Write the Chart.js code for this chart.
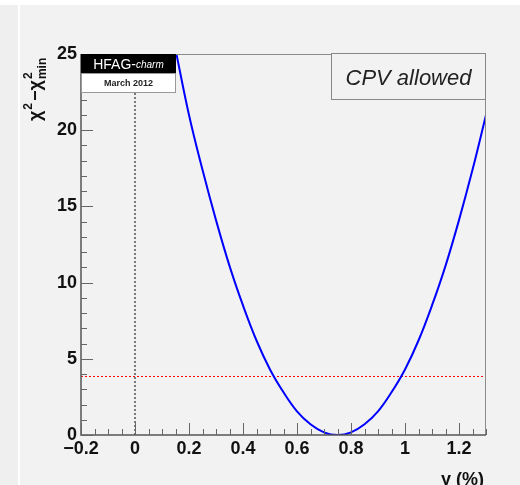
<!DOCTYPE html>
<html>
<head>
<meta charset="utf-8">
<script src="https://cdn.jsdelivr.net/npm/chart.js@4"></script>
<style>
  html, body { margin: 0; padding: 0; background: #ffffff; }
  #page { position: absolute; left: 0; top: 5px; width: 520px; height: 480px; background: #f2f2f2; }
  #strip { position: absolute; left: 0; top: 5px; width: 18px; height: 480px; background: #efefef; border-right: 2px solid #ffffff; }
  #wrap { position: absolute; left: 0; top: 0; width: 520px; height: 485px; }
</style>
</head>
<body>
<div id="page"></div>
<div id="strip"></div>
<div id="wrap"><canvas id="chart" width="520" height="485"></canvas></div>
<script>
// scan of y (%) vs delta chi2
const yValues    = [0.15, 0.20, 0.25, 0.30, 0.35, 0.40, 0.45, 0.50, 0.55, 0.60, 0.65, 0.70, 0.75,
                    0.80, 0.85, 0.90, 0.95, 1.00, 1.05, 1.10, 1.15, 1.20, 1.25, 1.30];
const chi2Values = [25.3, 21.0, 17.4, 14.1, 11.1, 8.5, 6.2, 4.3, 2.8, 1.55, 0.7, 0.17, 0.0,
                    0.17, 0.7, 1.55, 2.8, 4.3, 6.2, 8.5, 11.1, 14.1, 17.4, 21.0];
const cl95Level = 3.84;
const xRange = [-0.2, 1.3];
const yRange = [0, 25];
const xTickValues = [-0.2, 0, 0.2, 0.4, 0.6, 0.8, 1, 1.2];
const yTickValues = [0, 5, 10, 15, 20, 25];
const xTitle = 'y (%)';
const tagTitle = 'HFAG-';
const tagSub = 'charm';
const tagDate = 'March 2012';
const boxText = 'CPV allowed';

const FONT = '"Liberation Sans", Arial, Helvetica, sans-serif';

function fmt(v) {
  const r = Math.round(v * 10) / 10;
  return (r < 0 ? '\u2212' : '') + String(Math.abs(r));
}

const rootStyle = {
  id: 'rootStyle',
  afterDatasetsDraw(chart) {
    const { ctx, chartArea: a, scales: { x, y } } = chart;
    ctx.save();

    // frame top and right
    ctx.strokeStyle = '#8a8a8a';
    ctx.lineWidth = 1;
    ctx.beginPath();
    ctx.moveTo(a.left, a.top + 0.5);
    ctx.lineTo(a.right - 0.5, a.top + 0.5);
    ctx.lineTo(a.right - 0.5, a.bottom);
    ctx.stroke();

    // axis lines
    ctx.strokeStyle = '#555555';
    ctx.lineWidth = 1.5;
    ctx.beginPath();
    ctx.moveTo(a.left, a.top);
    ctx.lineTo(a.left, a.bottom);
    ctx.lineTo(a.right, a.bottom);
    ctx.stroke();

    // ticks pointing inward
    ctx.lineWidth = 1;
    ctx.strokeStyle = '#666666';
    ctx.beginPath();
    for (let i = -4; i <= 26; i++) {
      const v = i * 0.05;
      if (v < xRange[0] - 1e-9 || v > xRange[1] + 1e-9) continue;
      const px = Math.round(x.getPixelForValue(v)) + 0.5;
      const len = i % 4 === 0 ? 12 : 6;
      ctx.moveTo(px, a.bottom);
      ctx.lineTo(px, a.bottom - len);
    }
    for (let v = 0; v <= 25; v++) {
      const py = Math.round(y.getPixelForValue(v)) + 0.5;
      const len = v % 5 === 0 ? 12 : 6;
      ctx.moveTo(a.left, py);
      ctx.lineTo(a.left + len, py);
    }
    ctx.stroke();

    // HFAG tag
    const tagRight = 176;
    ctx.fillStyle = '#000000';
    ctx.fillRect(a.left, a.top, tagRight - a.left, 19);
    ctx.fillStyle = '#ffffff';
    ctx.fillRect(a.left, a.top + 19, tagRight - a.left, 20);
    ctx.strokeStyle = '#999999';
    ctx.lineWidth = 1;
    ctx.strokeRect(a.left + 0.5, a.top + 19.5, tagRight - a.left - 1, 19);
    ctx.fillStyle = '#ffffff';
    ctx.font = '14px ' + FONT;
    ctx.textBaseline = 'alphabetic';
    ctx.textAlign = 'left';
    const w1 = ctx.measureText(tagTitle).width;
    ctx.font = 'italic 10px ' + FONT;
    const w2 = ctx.measureText(tagSub).width;
    let tx = (a.left + tagRight) / 2 - (w1 + w2) / 2;
    ctx.font = '14px ' + FONT;
    ctx.fillText(tagTitle, tx, a.top + 15);
    ctx.font = 'italic 10px ' + FONT;
    ctx.fillText(tagSub, tx + w1, a.top + 14);
    ctx.fillStyle = '#222222';
    ctx.font = 'bold 9px ' + FONT;
    ctx.textAlign = 'center';
    ctx.fillText(tagDate, (a.left + tagRight) / 2, a.top + 32);

    // CPV allowed box
    ctx.fillStyle = '#f2f2f2';
    ctx.fillRect(331, a.top - 1, a.right - 331, 47);
    ctx.strokeStyle = '#888888';
    ctx.strokeRect(331.5, a.top - 0.5, a.right - 332, 46);
    ctx.fillStyle = '#222222';
    ctx.font = 'italic 22px ' + FONT;
    ctx.textAlign = 'center';
    ctx.fillText(boxText, (331 + a.right) / 2, a.top + 31);

    // x title
    ctx.fillStyle = '#111111';
    ctx.font = 'bold 18px ' + FONT;
    ctx.textAlign = 'right';
    ctx.fillText(xTitle, a.right - 2, 485);

    // y title: chi^2 - chi^2_min, rotated
    ctx.translate(41, 121);
    ctx.rotate(-Math.PI / 2);
    ctx.textAlign = 'left';
    let cx = 0;
    ctx.font = 'bold 18px ' + FONT;
    ctx.fillText('\u03c7', 0, 0);
    cx += ctx.measureText('\u03c7').width;
    ctx.font = 'bold 12px ' + FONT;
    ctx.fillText('2', cx + 1, -9);
    cx += ctx.measureText('2').width + 3;
    ctx.font = 'bold 18px ' + FONT;
    ctx.fillText('\u2212\u03c7', cx, 0);
    cx += ctx.measureText('\u2212\u03c7').width;
    ctx.font = 'bold 12px ' + FONT;
    ctx.fillText('2', cx + 1, -9);
    ctx.fillText('min', cx + 1, 5);

    ctx.restore();
  }
};

new Chart(document.getElementById('chart'), {
  type: 'scatter',
  data: {
    datasets: [
      {
        data: yValues.map((v, i) => ({ x: v, y: chi2Values[i] })),
        showLine: true,
        borderColor: '#0000ff',
        borderWidth: 2,
        tension: 0.4,
        pointRadius: 0,
        clip: 0,
      },
      {
        data: [{ x: xRange[0], y: cl95Level }, { x: xRange[1], y: cl95Level }],
        showLine: true,
        borderColor: '#ff0000',
        borderWidth: 1,
        borderDash: [2, 2],
        pointRadius: 0,
        clip: 0,
      },
      {
        data: [{ x: 0, y: yRange[0] }, { x: 0, y: yRange[1] }],
        showLine: true,
        borderColor: '#000000',
        borderWidth: 1,
        borderDash: [2, 2],
        pointRadius: 0,
        clip: 0,
      },
    ],
  },
  options: {
    responsive: false,
    animation: false,
    layout: { padding: { left: 0, top: 54, right: 34, bottom: 0 } },
    plugins: { legend: { display: false }, tooltip: { enabled: false } },
    scales: {
      x: {
        type: 'linear',
        min: xRange[0],
        max: xRange[1],
        border: { display: false },
        grid: { display: false, drawTicks: false },
        afterBuildTicks(scale) { scale.ticks = xTickValues.map((value) => ({ value })); },
        afterFit(scale) { scale.height = 50; },
        ticks: {
          padding: 3,
          color: '#111111',
          font: { family: FONT, size: 18, weight: 'bold' },
          maxRotation: 0,
          autoSkip: false,
          callback(v) { return fmt(v); },
        },
      },
      y: {
        min: yRange[0],
        max: yRange[1],
        border: { display: false },
        grid: { display: false, drawTicks: false },
        afterBuildTicks(scale) { scale.ticks = yTickValues.map((value) => ({ value })); },
        afterFit(scale) { scale.width = 81; },
        ticks: {
          padding: 4,
          color: '#111111',
          font: { family: FONT, size: 18, weight: 'bold' },
          callback(v) { return fmt(v); },
        },
      },
    },
  },
  plugins: [rootStyle],
});
</script>
</body>
</html>
